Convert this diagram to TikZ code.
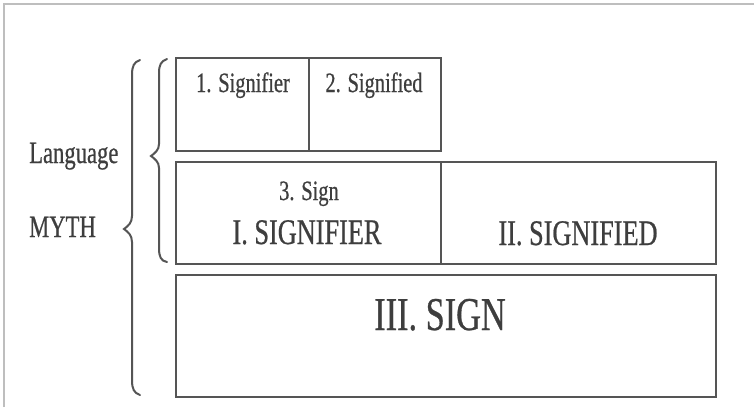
\documentclass[tikz,border=0pt]{standalone}
\usepackage{fontspec}
\newfontfamily\condfont{Liberation Serif}[FakeStretch=0.73,FakeBold=0.6]
\definecolor{linegray}{RGB}{85,85,85}
\definecolor{textgray}{RGB}{62,62,62}
\definecolor{framegray}{RGB}{190,190,190}
\begin{document}
\begin{tikzpicture}[x=1pt,y=-1pt,
  cell/.style={draw=linegray, line width=2.1pt},
  brace/.style={draw=linegray, line width=2pt, line cap=round},
  lbl/.style={text=textgray, inner sep=0pt, anchor=base},
  small/.style={lbl, font=\condfont\fontsize{28}{30}\selectfont},
  medium/.style={lbl, font=\condfont\fontsize{36}{38}\selectfont},
  large/.style={lbl, font=\condfont\fontsize{47}{50}\selectfont},
  side/.style={lbl, anchor=base west, font=\condfont\fontsize{31}{33}\selectfont}]
\useasboundingbox (0,0) rectangle (754,407);
\fill[white] (0,0) rectangle (754,407);
% frame
\draw[framegray, line width=1.5pt] (4,407) -- (4,4) -- (754,4);
% boxes
\draw[cell] (176,58) rectangle (441,151);
\draw[cell] (309,58) -- (309,151);
\draw[cell] (176,162) rectangle (716,264);
\draw[cell] (441,162) -- (441,264);
\draw[cell] (176,275) rectangle (716,397);
% texts
\node[small] (sr) at (243,92) {1. Signifier};
\node[small] (sd) at (374,92) {2. Signified};
\node[small] (sg) at (309,200) {3. Sign};
\node[medium] (SR) at (307,244) {I. SIGNIFIER};
\node[medium] (SD) at (578,245) {II. SIGNIFIED};
\node[large] (SG) at (440,330) {III. SIGN};
\node[side] (lang) at (29,163) {Language};
\node[side] (myth) at (29,237) {MYTH};
% outer brace
\draw[brace] (140,60) .. controls (134,62) and (132,66) .. (132,75)
  -- (132,216) .. controls (132,223) and (128,226) .. (124,229)
  .. controls (128,232) and (132,235) .. (132,242)
  -- (132,380) .. controls (132,389) and (134,393) .. (140,395);
% inner brace
\draw[brace] (167,59) .. controls (161,61) and (159,65) .. (159,73)
  -- (159,144) .. controls (159,150) and (155,153) .. (151,156)
  .. controls (155,159) and (159,162) .. (159,168)
  -- (159,248) .. controls (159,257) and (161,261) .. (167,262);
\end{tikzpicture}
\end{document}
